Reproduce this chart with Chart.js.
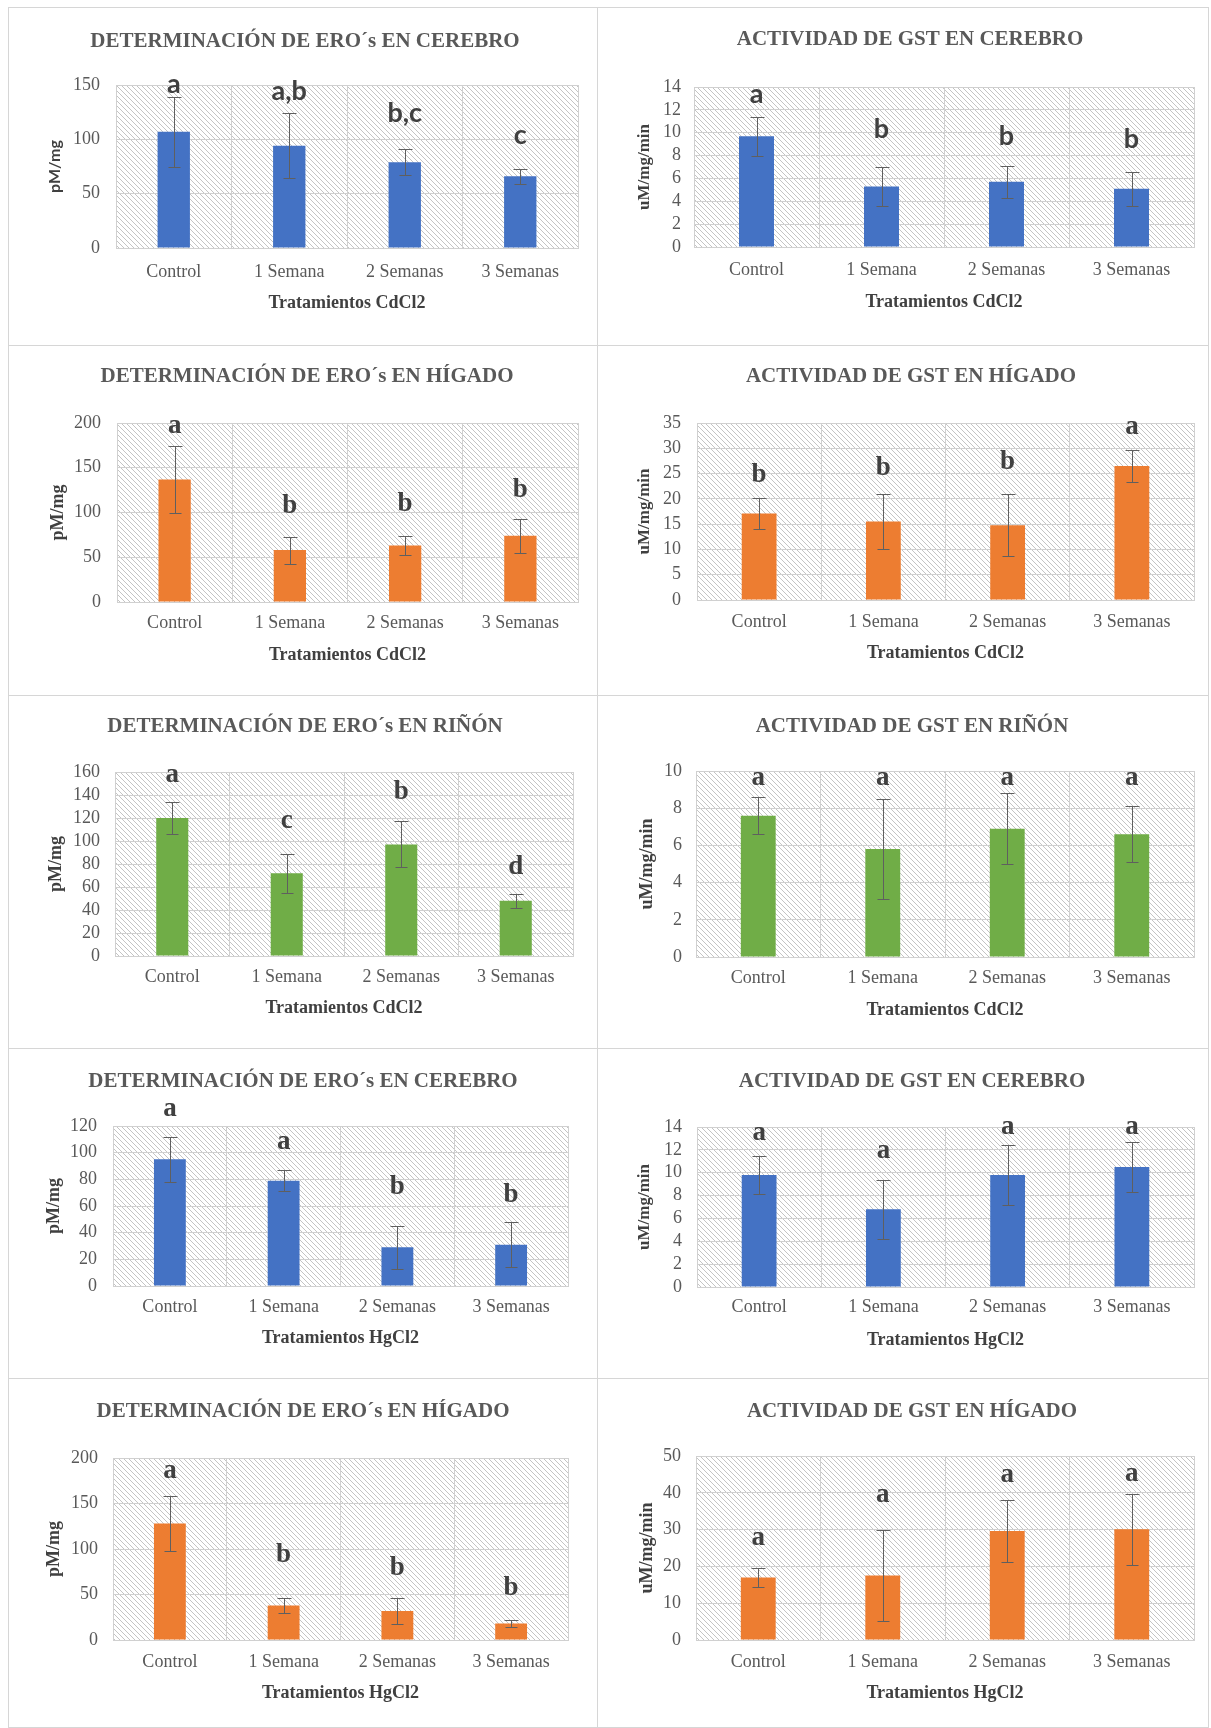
<!DOCTYPE html>
<html>
<head>
<meta charset="utf-8">
<script src="https://cdn.jsdelivr.net/npm/chart.js@4.4.1/dist/chart.umd.min.js"></script>
<style>
  html, body { margin: 0; padding: 0; background: #ffffff; }
  body { width: 1211px; height: 1728px; position: relative; overflow: hidden; }
  canvas { position: absolute; }
</style>
</head>
<body>
<script>
// ---------- data ----------
const categories = ['Control', '1 Semana', '2 Semanas', '3 Semanas'];

// CdCl2 treatments
const eroCerebroCd = [107, 94, 79, 66];
const eroCerebroCdSd = [32, 30, 12, 7];
const eroCerebroCdGrp = ['a', 'a,b', 'b,c', 'c'];
const eroCerebroCdTicks = [0, 50, 100, 150];

const gstCerebroCd = [9.7, 5.3, 5.7, 5.1];
const gstCerebroCdSd = [1.7, 1.7, 1.4, 1.5];
const gstCerebroCdGrp = ['a', 'b', 'b', 'b'];
const gstCerebroCdTicks = [0, 2, 4, 6, 8, 10, 12, 14];

const eroHigadoCd = [137, 58, 63, 74];
const eroHigadoCdSd = [37, 15, 11, 19];
const eroHigadoCdGrp = ['a', 'b', 'b', 'b'];
const eroHigadoCdTicks = [0, 50, 100, 150, 200];

const gstHigadoCd = [17.1, 15.5, 14.8, 26.5];
const gstHigadoCdSd = [3.0, 5.4, 6.1, 3.1];
const gstHigadoCdGrp = ['b', 'b', 'b', 'a'];
const gstHigadoCdTicks = [0, 5, 10, 15, 20, 25, 30, 35];

const eroRinonCd = [120, 72, 97, 48];
const eroRinonCdSd = [14, 17, 20, 6];
const eroRinonCdGrp = ['a', 'c', 'b', 'd'];
const eroRinonCdTicks = [0, 20, 40, 60, 80, 100, 120, 140, 160];

const gstRinonCd = [7.6, 5.8, 6.9, 6.6];
const gstRinonCdSd = [1.0, 2.7, 1.9, 1.5];
const gstRinonCdGrp = ['a', 'a', 'a', 'a'];
const gstRinonCdTicks = [0, 2, 4, 6, 8, 10];

// HgCl2 treatments
const eroCerebroHg = [95, 79, 29, 31];
const eroCerebroHgSd = [17, 8, 16, 17];
const eroCerebroHgGrp = ['a', 'a', 'b', 'b'];
const eroCerebroHgTicks = [0, 20, 40, 60, 80, 100, 120];

const gstCerebroHg = [9.8, 6.8, 9.8, 10.5];
const gstCerebroHgSd = [1.7, 2.6, 2.6, 2.2];
const gstCerebroHgGrp = ['a', 'a', 'a', 'a'];
const gstCerebroHgTicks = [0, 2, 4, 6, 8, 10, 12, 14];

const eroHigadoHg = [128, 38, 32, 18];
const eroHigadoHgSd = [30, 8, 14, 4];
const eroHigadoHgGrp = ['a', 'b', 'b', 'b'];
const eroHigadoHgTicks = [0, 50, 100, 150, 200];

const gstHigadoHg = [17, 17.5, 29.6, 30.1];
const gstHigadoHgSd = [2.6, 12.4, 8.4, 9.6];
const gstHigadoHgGrp = ['a', 'a', 'a', 'a'];
const gstHigadoHgTicks = [0, 10, 20, 30, 40, 50];

// ---------- styling / layout ----------
const SERIF = '"Liberation Serif", "Times New Roman", serif';
const SANS = 'Lato, "Liberation Sans", Arial, sans-serif';
const BLUE = '#4472C4', ORANGE = '#ED7D31', GREEN = '#70AD47';
const GRID = '#d0d0d0';
const TEXT = '#595959';
const DARK = '#404040';

// heights (in axis units) at which the group letters sit
const letterAt = {
  eroCerebroCd: [151, 144, 124, 104],
  gstCerebroCd: [13.4, 10.3, 9.7, 9.4],
  eroHigadoCd: [197, 107, 109, 125],
  gstHigadoCd: [24.7, 26.1, 27.3, 34.2],
  eroRinonCd: [157, 117, 143, 77],
  gstRinonCd: [9.6, 9.6, 9.6, 9.6],
  eroCerebroHg: [133, 108, 74, 68],
  gstCerebroHg: [13.5, 11.9, 14.0, 14.0],
  eroHigadoHg: [186, 93, 79, 57],
  gstHigadoHg: [27.6, 39.4, 44.8, 45]
};

const panels = [
  { key: 'eroCerebroCd', title: 'DETERMINACIÓN DE ERO´s EN CEREBRO', y: 'pM/mg', x: 'Tratamientos CdCl2',
    mean: eroCerebroCd, sd: eroCerebroCdSd, grp: eroCerebroCdGrp, ticks: eroCerebroCdTicks, color: BLUE, letterFamily: SANS, yFamily: SANS, ySize: 16,
    box: [8, 7, 598, 346], plot: [116, 85, 578, 248], t: [305, 42], yt: 55, tr: 100, xl: 272, xt: 303 },
  { key: 'gstCerebroCd', title: 'ACTIVIDAD DE GST EN CEREBRO', y: 'uM/mg/min', x: 'Tratamientos CdCl2',
    mean: gstCerebroCd, sd: gstCerebroCdSd, grp: gstCerebroCdGrp, ticks: gstCerebroCdTicks, color: BLUE, letterFamily: SANS, yFamily: SERIF, ySize: 17,
    box: [597, 7, 1209, 346], plot: [694, 87, 1194, 247], t: [910, 40], yt: 645, tr: 681, xl: 270, xt: 302 },
  { key: 'eroHigadoCd', title: 'DETERMINACIÓN DE ERO´s EN HÍGADO', y: 'pM/mg', x: 'Tratamientos CdCl2',
    mean: eroHigadoCd, sd: eroHigadoCdSd, grp: eroHigadoCdGrp, ticks: eroHigadoCdTicks, color: ORANGE, letterFamily: SERIF, yFamily: SERIF, ySize: 18,
    box: [8, 345, 598, 696], plot: [117, 423, 578, 602], t: [307, 377], yt: 58, tr: 101, xl: 623, xt: 655 },
  { key: 'gstHigadoCd', title: 'ACTIVIDAD DE GST EN HÍGADO', y: 'uM/mg/min', x: 'Tratamientos CdCl2',
    mean: gstHigadoCd, sd: gstHigadoCdSd, grp: gstHigadoCdGrp, ticks: gstHigadoCdTicks, color: ORANGE, letterFamily: SERIF, yFamily: SERIF, ySize: 17,
    box: [597, 345, 1209, 696], plot: [697, 423, 1194, 600], t: [911, 377], yt: 645, tr: 681, xl: 622, xt: 653 },
  { key: 'eroRinonCd', title: 'DETERMINACIÓN DE ERO´s EN RIÑÓN', y: 'pM/mg', x: 'Tratamientos CdCl2',
    mean: eroRinonCd, sd: eroRinonCdSd, grp: eroRinonCdGrp, ticks: eroRinonCdTicks, color: GREEN, letterFamily: SERIF, yFamily: SERIF, ySize: 18,
    box: [8, 695, 598, 1049], plot: [115, 772, 573, 956], t: [305, 727], yt: 56, tr: 100, xl: 977, xt: 1008 },
  { key: 'gstRinonCd', title: 'ACTIVIDAD DE GST EN RIÑÓN', y: 'uM/mg/min', x: 'Tratamientos CdCl2',
    mean: gstRinonCd, sd: gstRinonCdSd, grp: gstRinonCdGrp, ticks: gstRinonCdTicks, color: GREEN, letterFamily: SERIF, yFamily: SERIF, ySize: 18,
    box: [597, 695, 1209, 1049], plot: [696, 771, 1194, 957], t: [912, 727], yt: 647, tr: 682, xl: 978, xt: 1010 },
  { key: 'eroCerebroHg', title: 'DETERMINACIÓN DE ERO´s EN CEREBRO', y: 'pM/mg', x: 'Tratamientos HgCl2',
    mean: eroCerebroHg, sd: eroCerebroHgSd, grp: eroCerebroHgGrp, ticks: eroCerebroHgTicks, color: BLUE, letterFamily: SERIF, yFamily: SERIF, ySize: 18,
    box: [8, 1048, 598, 1379], plot: [113, 1126, 568, 1286], t: [303, 1082], yt: 54, tr: 97, xl: 1307, xt: 1338 },
  { key: 'gstCerebroHg', title: 'ACTIVIDAD DE GST EN CEREBRO', y: 'uM/mg/min', x: 'Tratamientos HgCl2',
    mean: gstCerebroHg, sd: gstCerebroHgSd, grp: gstCerebroHgGrp, ticks: gstCerebroHgTicks, color: BLUE, letterFamily: SERIF, yFamily: SERIF, ySize: 17,
    box: [597, 1048, 1209, 1379], plot: [697, 1127, 1194, 1287], t: [912, 1082], yt: 645, tr: 682, xl: 1307, xt: 1340 },
  { key: 'eroHigadoHg', title: 'DETERMINACIÓN DE ERO´s EN HÍGADO', y: 'pM/mg', x: 'Tratamientos HgCl2',
    mean: eroHigadoHg, sd: eroHigadoHgSd, grp: eroHigadoHgGrp, ticks: eroHigadoHgTicks, color: ORANGE, letterFamily: SERIF, yFamily: SERIF, ySize: 18,
    box: [8, 1378, 598, 1728], plot: [113, 1458, 568, 1640], t: [303, 1412], yt: 54, tr: 98, xl: 1662, xt: 1693 },
  { key: 'gstHigadoHg', title: 'ACTIVIDAD DE GST EN HÍGADO', y: 'uM/mg/min', x: 'Tratamientos HgCl2',
    mean: gstHigadoHg, sd: gstHigadoHgSd, grp: gstHigadoHgGrp, ticks: gstHigadoHgTicks, color: ORANGE, letterFamily: SERIF, yFamily: SERIF, ySize: 18,
    box: [597, 1378, 1209, 1728], plot: [696, 1456, 1194, 1640], t: [912, 1412], yt: 647, tr: 681, xl: 1662, xt: 1693 }
];

// diagonal hatch used as the plot background
function hatchPattern(ctx) {
  const s = 5;
  const c = document.createElement('canvas');
  c.width = s; c.height = s;
  const g = c.getContext('2d');
  g.fillStyle = '#ffffff';
  g.fillRect(0, 0, s, s);
  g.strokeStyle = '#c4c4c4';
  g.lineWidth = 1;
  g.beginPath();
  g.moveTo(-1, -1); g.lineTo(s + 1, s + 1);
  g.stroke();
  return ctx.createPattern(c, 'repeat');
}

function decorPlugin(p, w, h) {
  return {
    id: 'decor',
    beforeDraw(chart) {
      const { ctx, chartArea: a } = chart;
      ctx.save();
      ctx.fillStyle = '#ffffff';
      ctx.fillRect(0, 0, w, h);
      ctx.fillStyle = hatchPattern(ctx);
      ctx.fillRect(a.left, a.top, a.right - a.left, a.bottom - a.top);
      ctx.restore();
    },
    afterDatasetsDraw(chart) {
      const ctx = chart.ctx;
      const ys = chart.scales.y;
      const bars = chart.getDatasetMeta(0).data;
      ctx.save();
      // error bars (mean ± SD)
      ctx.strokeStyle = '#5f5f5f';
      ctx.lineWidth = 1;
      bars.forEach((bar, i) => {
        const x = Math.round(bar.x) + 0.5;
        const yt = Math.round(ys.getPixelForValue(p.mean[i] + p.sd[i])) + 0.5;
        const yb = Math.round(ys.getPixelForValue(p.mean[i] - p.sd[i])) + 0.5;
        ctx.beginPath();
        ctx.moveTo(x, yt); ctx.lineTo(x, yb);
        ctx.moveTo(x - 7, yt); ctx.lineTo(x + 7, yt);
        ctx.moveTo(x - 6, yb); ctx.lineTo(x + 6, yb);
        ctx.stroke();
      });
      // significance letters
      ctx.fillStyle = DARK;
      ctx.font = 'bold 27px ' + p.letterFamily;
      ctx.textAlign = 'center';
      ctx.textBaseline = 'middle';
      const at = letterAt[p.key];
      bars.forEach((bar, i) => {
        ctx.fillText(p.grp[i], bar.x, ys.getPixelForValue(at[i]));
      });
      ctx.restore();
    },
    afterDraw(chart) {
      const ctx = chart.ctx;
      ctx.save();
      ctx.fillStyle = TEXT;
      ctx.font = 'bold 21px ' + SERIF;
      ctx.textAlign = 'center';
      ctx.textBaseline = 'middle';
      ctx.fillText(p.title, p.t[0] - p.box[0], p.t[1] - p.box[1]);
      ctx.strokeStyle = '#d6d6d6';
      ctx.lineWidth = 1;
      ctx.strokeRect(0.5, 0.5, w - 1, h - 1);
      ctx.restore();
    }
  };
}

panels.forEach(p => {
  const [bx0, by0, bx1, by1] = p.box;
  const w = bx1 - bx0, h = by1 - by0;
  const L = p.plot[0] - bx0, T = p.plot[1] - by0, R = p.plot[2] - bx0, B = p.plot[3] - by0;

  const cv = document.createElement('canvas');
  cv.width = w; cv.height = h;
  cv.style.left = bx0 + 'px'; cv.style.top = by0 + 'px';
  cv.style.width = w + 'px'; cv.style.height = h + 'px';
  document.body.appendChild(cv);

  const tickSize = 18, tickLH = tickSize * 1.2;
  const xtSize = 18, xtLH = xtSize * 1.2;
  const ytLH = p.ySize * 1.2;
  const ticks = p.ticks;

  new Chart(cv, {
    type: 'bar',
    data: {
      labels: categories,
      datasets: [{
        data: p.mean,
        backgroundColor: p.color,
        borderWidth: 0,
        barPercentage: 0.28,
        categoryPercentage: 1
      }]
    },
    options: {
      responsive: false,
      animation: false,
      devicePixelRatio: 1,
      events: [],
      layout: { padding: { left: 0, top: T, right: w - R, bottom: 0 } },
      plugins: { legend: { display: false }, tooltip: { enabled: false }, title: { display: false } },
      scales: {
        x: {
          grid: { color: GRID, drawTicks: false, offset: true, lineWidth: 1 },
          border: { color: GRID },
          ticks: {
            font: { family: SERIF, size: tickSize }, color: TEXT,
            padding: (p.xl - by0) - B - tickLH / 2, maxRotation: 0, autoSkip: false
          },
          title: {
            display: true, text: p.x, color: DARK,
            font: { family: SERIF, size: xtSize, weight: 'bold' },
            padding: { top: 0, bottom: h - (p.xt - by0) - xtLH / 2 }
          },
          afterFit: s => { s.height = h - B; }
        },
        y: {
          min: ticks[0], max: ticks[ticks.length - 1],
          grid: { color: GRID, drawTicks: false, lineWidth: 1 },
          border: { color: GRID },
          ticks: {
            stepSize: ticks[1] - ticks[0],
            autoSkip: false,
            font: { family: SERIF, size: tickSize }, color: TEXT,
            padding: L - (p.tr - bx0)
          },
          title: {
            display: true, text: p.y, color: DARK,
            font: { family: p.yFamily, size: p.ySize, weight: 'bold' },
            padding: { top: (p.yt - bx0) - ytLH / 2, bottom: 0 }
          },
          afterFit: s => { s.width = L; }
        }
      }
    },
    plugins: [decorPlugin(p, w, h)]
  });
});
</script>
</body>
</html>
